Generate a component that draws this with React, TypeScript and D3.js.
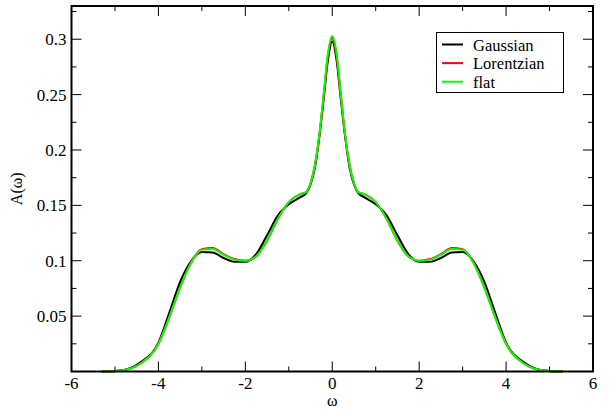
import React from 'react';
import * as d3 from 'd3';

const width = 613;
const height = 409;
const margin = { left: 71.5, right: 20, top: 6, bottom: 37.5 };

// omega grid (same for all three curves)
const omega = [-5.3, -4.85, -4.42, -4.0, -3.75, -3.5, -3.25, -3.0, -2.75, -2.5, -2.25, -2.0, -1.75, -1.5, -1.25, -1.0, -0.75, -0.6, -0.5, -0.4, -0.3, -0.2, -0.1, 0,
  0.1, 0.2, 0.3, 0.4, 0.5, 0.6, 0.75, 1.0, 1.25, 1.5, 1.75, 2.0, 2.25, 2.5, 2.75, 3.0, 3.25, 3.5, 3.75, 4.0, 4.42, 4.85, 5.3];

const gaussian = [0, 0.001, 0.008, 0.026, 0.053, 0.081, 0.0995, 0.108, 0.1075, 0.1025, 0.099, 0.099, 0.106, 0.123, 0.141, 0.151, 0.157, 0.161, 0.169, 0.184, 0.211, 0.245, 0.281, 0.298,
  0.281, 0.245, 0.211, 0.184, 0.169, 0.161, 0.157, 0.151, 0.141, 0.123, 0.106, 0.099, 0.099, 0.1025, 0.1075, 0.108, 0.0995, 0.081, 0.053, 0.026, 0.008, 0.001, 0];

const lorentzian = [0, 0.001, 0.007, 0.025, 0.049, 0.076, 0.0985, 0.1105, 0.1115, 0.106, 0.1015, 0.1, 0.104, 0.118, 0.138, 0.153, 0.16, 0.162, 0.17, 0.186, 0.212, 0.248, 0.285, 0.301,
  0.285, 0.248, 0.212, 0.186, 0.17, 0.162, 0.16, 0.153, 0.138, 0.118, 0.104, 0.1, 0.1015, 0.106, 0.1115, 0.1105, 0.0985, 0.076, 0.049, 0.025, 0.007, 0.001, 0];

const flat = [0, 0.001, 0.007, 0.025, 0.049, 0.076, 0.098, 0.11, 0.1105, 0.1055, 0.101, 0.1, 0.104, 0.118, 0.138, 0.153, 0.16, 0.162, 0.17, 0.186, 0.213, 0.249, 0.287, 0.303,
  0.287, 0.249, 0.213, 0.186, 0.17, 0.162, 0.16, 0.153, 0.138, 0.118, 0.104, 0.1, 0.101, 0.1055, 0.1105, 0.11, 0.098, 0.076, 0.049, 0.025, 0.007, 0.001, 0];

const xTicks = [-6, -4, -2, 0, 2, 4, 6];
const xMinor = [-5, -3, -1, 1, 3, 5];
const yTicks = [0.05, 0.1, 0.15, 0.2, 0.25, 0.3];
const yTickLabels = ['0.05', '0.1', '0.15', '0.2', '0.25', '0.3'];
const yMinor = [0.025, 0.075, 0.125, 0.175, 0.225, 0.275, 0.325];

const seriesNames = ['Gaussian', 'Lorentzian', 'flat'];
const seriesColors = ['#000000', '#ff0000', '#00ff00'];
const seriesData = [gaussian, lorentzian, flat];

const font = "'Times New Roman', Times, Tinos, 'Liberation Serif', serif";

export default function App() {
  const x = d3.scaleLinear().domain([-6, 6]).range([margin.left, width - margin.right]);
  const y = d3.scaleLinear().domain([0, 0.33]).range([height - margin.bottom, margin.top]);
  const x0 = x.range()[0], x1 = x.range()[1];
  const y0 = y.range()[0], y1 = y.range()[1];

  const line = (vals: number[]) =>
    d3.line<number>()
      .x((_, i) => x(omega[i]))
      .y((d) => y(d))
      .curve(d3.curveMonotoneX)(vals) as string;

  return (
    <svg width={width} height={height} style={{ position: 'absolute', left: 0, top: 0, background: '#fff', fontFamily: font }}>
      <g fill="#000">
        {/* curves */}
        <g fill="none" strokeWidth={2} strokeLinejoin="round">
          {seriesData.map((vals, i) => (
            <path key={seriesNames[i]} d={line(vals)} stroke={seriesColors[i]} />
          ))}
        </g>

        {/* ticks, inward on all four sides */}
        <g stroke="#000" strokeWidth={1}>
          {xTicks.map((t) => (
            <g key={'xt' + t}>
              <line x1={x(t)} x2={x(t)} y1={y0} y2={y0 - 10} />
              <line x1={x(t)} x2={x(t)} y1={y1} y2={y1 + 10} />
            </g>
          ))}
          {xMinor.map((t) => (
            <g key={'xm' + t}>
              <line x1={x(t)} x2={x(t)} y1={y0} y2={y0 - 5} />
              <line x1={x(t)} x2={x(t)} y1={y1} y2={y1 + 5} />
            </g>
          ))}
          {yTicks.map((t) => (
            <g key={'yt' + t}>
              <line x1={x0} x2={x0 + 10} y1={y(t)} y2={y(t)} />
              <line x1={x1} x2={x1 - 10} y1={y(t)} y2={y(t)} />
            </g>
          ))}
          {yMinor.map((t) => (
            <g key={'ym' + t}>
              <line x1={x0} x2={x0 + 5} y1={y(t)} y2={y(t)} />
              <line x1={x1} x2={x1 - 5} y1={y(t)} y2={y(t)} />
            </g>
          ))}
        </g>

        {/* frame */}
        <rect x={x0} y={y1} width={x1 - x0} height={y0 - y1} fill="none" stroke="#000" strokeWidth={2} />

        {/* tick labels */}
        <g fontSize={17}>
          {xTicks.map((t) => (
            <text key={'xl' + t} x={x(t)} y={y0 + 17} textAnchor="middle">{String(t)}</text>
          ))}
          {yTicks.map((t, i) => (
            <text key={'yl' + t} x={x0 - 5} y={y(t) + 6} textAnchor="end">{yTickLabels[i]}</text>
          ))}
        </g>

        {/* axis titles */}
        <text x={x(0)} y={406} fontSize={16} textAnchor="middle">ω</text>
        <text transform={`translate(22,${(y0 + y1) / 2})rotate(-90)`} fontSize={16} textAnchor="middle">A(ω)</text>

        {/* legend */}
        <g>
          <rect x={436.5} y={32.5} width={127} height={60} fill="#fff" stroke="#000" strokeWidth={1} />
          {seriesNames.map((name, i) => (
            <g key={name} transform={`translate(0,${44.5 + i * 18.6})`}>
              <line x1={442} x2={463} y1={0} y2={0} stroke={seriesColors[i]} strokeWidth={2} />
              <text x={473} y={6} fontSize={16.5}>{name}</text>
            </g>
          ))}
        </g>
      </g>
    </svg>
  );
}
